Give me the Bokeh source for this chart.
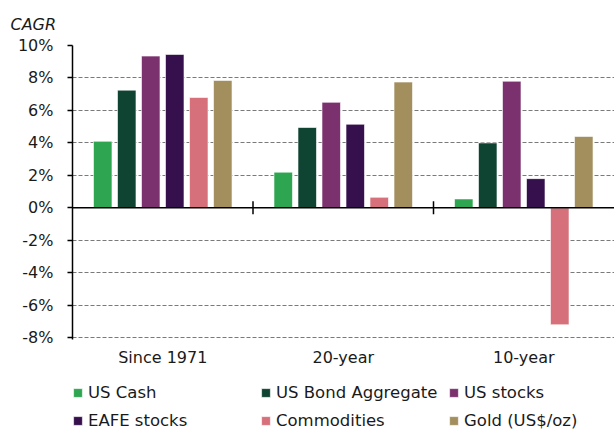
import numpy as np
from bokeh.plotting import figure
from bokeh.models import (Range1d, Span, Legend, LegendItem, FixedTicker,
                          PrintfTickFormatter, ColumnDataSource)
from bokeh.core.properties import value
from bokeh.embed import file_html
from bokeh.resources import INLINE

# ---- data ----
periods = ["Since 1971", "20-year", "10-year"]
series_names = ["US Cash", "US Bond Aggregate", "US stocks",
                "EAFE stocks", "Commodities", "Gold (US$/oz)"]
us_cash = [4.1, 2.2, 0.55]
us_bond = [7.25, 4.95, 4.0]
us_stocks = [9.35, 6.5, 7.8]
eafe_stocks = [9.45, 5.15, 1.8]
commodities = [6.8, 0.65, -7.2]
gold = [7.85, 7.75, 4.4]
y_ticks = [-8, -6, -4, -2, 0, 2, 4, 6, 8, 10]

series_values = [us_cash, us_bond, us_stocks, eafe_stocks, commodities, gold]
colors = ["#2EA651", "#0F4432", "#7B316E", "#36104D", "#D6707A", "#A38F5E"]

FONT = "DejaVu Sans"
TXT = "#1a1a1a"

W, H = 614, 432
LEFT, TOP = 72, 44
ymax, ymin_axis = 10, -8
px_per_unit = 16.28
y_bottom = ymin_axis - (H - 337) / px_per_unit   # frame extends under labels/legend

p = figure(width=W, height=H, output_backend="svg", toolbar_location=None,
           x_range=Range1d(0, (W - LEFT) / 180.5), y_range=Range1d(y_bottom, ymax),
           x_axis_location=None,
           min_border_left=LEFT, min_border_right=0, min_border_top=TOP,
           min_border_bottom=0)
p.outline_line_color = None
p.xgrid.grid_line_color = None

# title
p.title.text = "CAGR"
p.title.text_font = FONT
p.title.text_font_style = "italic"
p.title.text_font_size = "16px"
p.title.text_color = TXT
p.title.align = "left"
p.title.offset = -62
p.title.standoff = 24

centers = np.arange(len(periods)) + 0.5
step = 0.133
renderers = []
for i, (name, vals, col) in enumerate(zip(series_names, series_values, colors)):
    r = p.vbar(x=centers + (i - 2.5) * step, top=vals, bottom=0, width=0.1025,
               fill_color=col, line_color="white", line_alpha=0.6, line_width=1)
    renderers.append(r)

# y grid
p.ygrid.grid_line_color = "#7a7a7a"
p.ygrid.grid_line_dash = "4 2"
p.ygrid.grid_line_width = 1.2

# zero line and group separators
p.add_layout(Span(location=0, dimension="width", line_color="black", line_width=1.5))
seps = np.arange(1, len(periods))
p.segment(x0=seps, y0=-0.4, x1=seps, y1=0.4, line_color="black", line_width=1.5)

# y axis
p.yaxis.ticker = FixedTicker(ticks=y_ticks)
p.yaxis.bounds = (ymin_axis - 0.1, ymax)
p.yaxis.formatter = PrintfTickFormatter(format="%d%%")
p.yaxis.axis_line_color = "black"
p.yaxis.axis_line_width = 1.5
p.yaxis.major_tick_line_color = "black"
p.yaxis.major_tick_line_width = 1.5
p.yaxis.major_tick_out = 5
p.yaxis.major_tick_in = 0
p.yaxis.minor_tick_line_color = None
p.yaxis.major_label_standoff = 14
p.yaxis.major_label_text_font = FONT
p.yaxis.major_label_text_font_size = "16px"
p.yaxis.major_label_text_color = TXT

# category labels
cat_src = ColumnDataSource(dict(x=centers, y=[ymin_axis - 1.2] * len(periods), text=periods))
p.text(x="x", y="y", text="text", source=cat_src, text_align="center",
       text_baseline="middle", text_font=value(FONT), text_font_size="16px",
       text_color=TXT)

legend = Legend(items=[LegendItem(label=n, renderers=[r]) for n, r in zip(series_names, renderers)],
                location=(0, 2), orientation="horizontal", ncols=3,
                glyph_width=11, glyph_height=11, label_standoff=5, spacing=8,
                label_height=20, label_width=164, padding=0, margin=0,
                border_line_color=None, background_fill_alpha=0,
                label_text_font=FONT, label_text_font_size="16.5px",
                label_text_color=TXT)
p.add_layout(legend, "center")

open("out.html", "w").write(file_html(p, INLINE))
